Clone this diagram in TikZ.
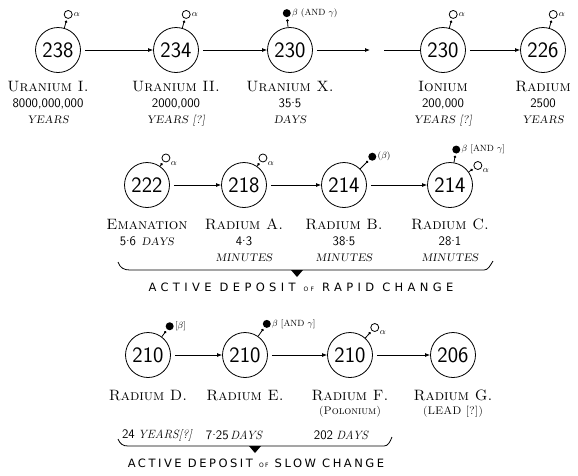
\documentclass[tikz,border=0pt]{standalone}
\usepackage{fontspec}
\usetikzlibrary{arrows.meta, positioning, calc}

\newfontfamily\depfont{DejaVu Sans}[LetterSpace=38]
\newfontfamily\depfontslow{DejaVu Sans}[LetterSpace=22]
\newcommand{\unit}[1]{{\itshape\fontsize{11}{16}\selectfont #1}}
\newcommand{\num}[1]{{\normalfont\sffamily\fontsize{13}{16}\selectfont #1}}
\newcommand{\mdot}{\raisebox{0.3em}{.}}

\tikzset{
	nucleus/.style={circle, draw, thick, minimum size=45pt, inner sep=0pt, font=\sffamily\fontsize{22}{22}\selectfont},
	decay/.style={thick, shorten <=4pt, -{Latex[length=5pt,width=4pt]}},
	alphap/.style={circle, draw, thick, minimum size=8pt, inner sep=0pt},
	betap/.style={circle, fill, minimum size=8pt, inner sep=0pt},
	stalk/.style={thick, shorten >=2pt, -{Circle[length=2.5pt]}},
	plbl/.style={font=\fontsize{9}{9}\selectfont, inner sep=1pt},
	info/.style={align=center, inner sep=0pt, font=\scshape\fontsize{15}{16}\selectfont},
	deposit/.style={inner sep=0pt, font=\depfont\fontsize{11.5}{12}\selectfont},
	brace/.style={thick},
}

\begin{document}
\begin{tikzpicture}[x=1pt, y=-1pt]
	\useasboundingbox (0,0) rectangle (578,475);

	% uranium series, top row
	\node[nucleus] (u1) at (58,50) {238};
	\node[nucleus] (u2) at (176,50) {234};
	\node[nucleus] (ux) at (290,50) {230};
	\node[nucleus] (io) at (443,50) {230};
	\node[nucleus] (ra) at (543,50) {226};
	\coordinate (gapl) at (370,50);
	\coordinate (gapr) at (384,50);

	\draw[decay] (u1) -- (u2);
	\draw[decay] (u2) -- (ux);
	\draw[decay] (ux) -- (gapl);
	\draw[thick] (gapr) -- (io);
	\draw[decay] (io) -- (ra);

	\node[info, below=8pt of u1, xshift=-10pt] {Uranium I.\\ \num{8000,000,000}\\ \unit{YEARS}};
	\node[info, below=8pt of u2] {Uranium II.\\ \num{2000,000}\\ \unit{YEARS [?]}};
	\node[info, below=8pt of ux] {Uranium X.\\ \num{35\mdot5}\\ \unit{DAYS}};
	\node[info, below=8pt of io] {Ionium\\ \num{200,000}\\ \unit{YEARS [?]}};
	\node[info, below=8pt of ra] {Radium\\ \num{2500}\\ \unit{YEARS}};

	\node[alphap, label={[plbl]right:$\alpha$}] (pu1) at ([shift={(74:37pt)}]u1) {};
	\node[alphap, label={[plbl]right:$\alpha$}] (pu2) at ([shift={(74:37pt)}]u2) {};
	\node[betap, label={[plbl]right:{$\beta$ (AND $\gamma$)}}] (pux) at ([shift={(95:37pt)}]ux) {};
	\node[alphap, label={[plbl]right:$\alpha$}] (pio) at ([shift={(74:37pt)}]io) {};
	\node[alphap, label={[plbl]right:$\alpha$}] (pra) at ([shift={(74:37pt)}]ra) {};
	\foreach \n in {u1, u2, ux, io, ra}
		\draw[stalk] (\n) -- (p\n);

	% emanation and active deposit of rapid change
	\node[nucleus] (em) at (147,185) {222};
	\node[nucleus] (rA) at (244,185) {218};
	\node[nucleus] (rB) at (344,185) {214};
	\node[nucleus] (rC) at (450,185) {214};

	\draw[decay] (em) -- (rA);
	\draw[decay] (rA) -- (rB);
	\draw[decay] (rB) -- (rC);

	\node[info, below=11pt of em] {Emanation\\ \num{5\mdot6} \unit{DAYS}};
	\node[info, below=11pt of rA] {Radium A.\\ \num{4\mdot3}\\ \unit{MINUTES}};
	\node[info, below=11pt of rB] {Radium B.\\ \num{38\mdot5}\\ \unit{MINUTES}};
	\node[info, below=11pt of rC] {Radium C.\\ \num{28\mdot1}\\ \unit{MINUTES}};

	\node[alphap, label={[plbl]-30:$\alpha$}] (pem) at ([shift={(55:33pt)}]em) {};
	\node[alphap, label={[plbl]-30:$\alpha$}] (prA) at ([shift={(55:33pt)}]rA) {};
	\node[betap, label={[plbl]right:{($\beta$)}}] (prB) at ([shift={(45:40pt)}]rB) {};
	\node[betap, label={[plbl]right:{$\beta$ [AND $\gamma$]}}] (prC) at ([shift={(80:36pt)}]rC) {};
	\node[alphap, label={[plbl]-30:$\alpha$}] (qrC) at ([shift={(35:34pt)}]rC) {};
	\foreach \n in {em, rA, rB, rC}
		\draw[stalk] (\n) -- (p\n);
	\draw[stalk] (rC) -- (qrC);

	\draw[brace] (118,262) .. controls (120,268) and (124,270) .. (130,270) -- (484,270) .. controls (488,270) and (490,266) .. (493,261);
	\fill (291,270) -- (303,270) -- (297,277) -- cycle;
	\node[deposit] (rapid) at (301,287) {ACTIVE DEPOSIT {\fontsize{6}{6}\selectfont OF} RAPID CHANGE};

	% active deposit of slow change
	\node[nucleus] (rD) at (148,355) {210};
	\node[nucleus] (rE) at (245,355) {210};
	\node[nucleus] (rF) at (350,355) {210};
	\node[nucleus] (rG) at (453,355) {206};

	\draw[decay] (rD) -- (rE);
	\draw[decay] (rE) -- (rF);
	\draw[decay] (rF) -- (rG);

	\node[info, below=12pt of rD] {Radium D.};
	\node[info, below=12pt of rE] {Radium E.};
	\node[info, below=12pt of rF, font=\scshape\fontsize{15}{14}\selectfont] {Radium F.\\ {\fontsize{11}{14}\selectfont (Polonium)}};
	\node[info, below=12pt of rG, font=\scshape\fontsize{15}{14}\selectfont] {Radium G.\\ {\fontsize{11}{14}\selectfont (LEAD [?])}};

	\node[betap, label={[plbl]right:{[$\beta$]}}] (prD) at ([shift={(53:36pt)}]rD) {};
	\node[betap, label={[plbl]right:{$\beta$ [AND $\gamma$]}}] (prE) at ([shift={(55:38pt)}]rE) {};
	\node[alphap, label={[plbl]-30:$\alpha$}] (prF) at ([shift={(48:37pt)}]rF) {};
	\foreach \n in {rD, rE, rF}
		\draw[stalk] (\n) -- (p\n);

	\node[inner sep=0pt] (tD) at (157,435) {\num{24} \unit{\fontsize{12}{16}\selectfont YEARS[?]}};
	\node[inner sep=0pt] (tE) at (234,435) {\num{7\mdot25}\,\unit{\fontsize{12}{16}\selectfont DAYS}};
	\node[inner sep=0pt] (tF) at (341,435) {\num{202} \unit{\fontsize{12}{16}\selectfont DAYS}};

	\draw[brace] (118,439) .. controls (120,444) and (123,446) .. (128,446) -- (384,446) .. controls (388,446) and (390,442) .. (392,437);
	\fill (249,446) -- (261,446) -- (255,453) -- cycle;
	\node[deposit, font=\depfontslow\fontsize{11.5}{12}\selectfont] (slow) at (256,463) {ACTIVE DEPOSIT {\fontsize{6}{6}\selectfont OF} SLOW CHANGE};
\end{tikzpicture}
\end{document}
